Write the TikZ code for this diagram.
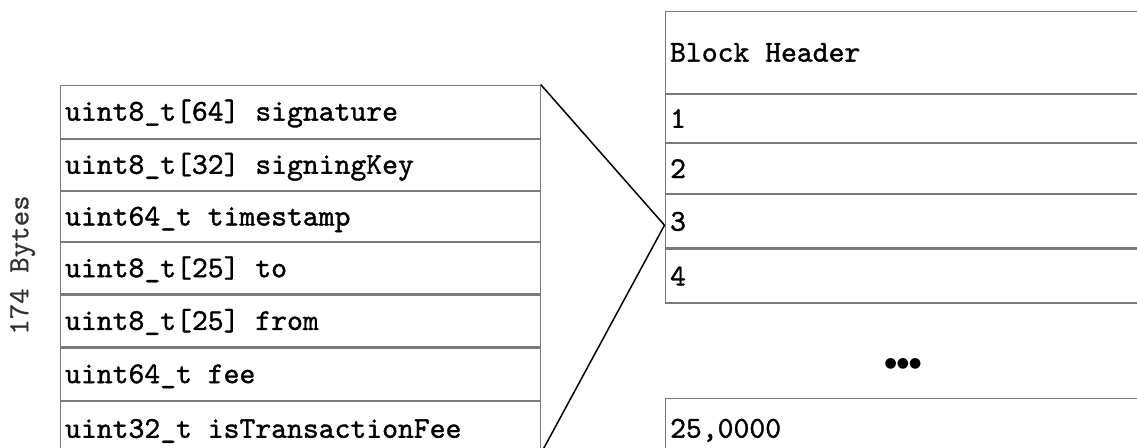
\documentclass[tikz,border=0pt]{standalone}
\usepackage{fontspec}
\setmonofont[FakeBold=1.2,WordSpace={1,0,0}]{lmmono10-regular.otf}
\newfontfamily\plainmono[FakeBold=0.6,WordSpace={1,0,0}]{lmmono10-regular.otf}
\newfontfamily\dotfont{DejaVu Sans}
\newcommand\wsp{\hspace*{0.525em}}
\definecolor{gridgray}{HTML}{7A7A7A}
\definecolor{labelgray}{HTML}{333333}
\begin{document}
\begin{tikzpicture}[x=1pt,y=-1pt,
  cell/.style={draw=gridgray, line width=1.2pt, rectangle, inner xsep=5pt, inner ysep=0pt,
    font=\ttfamily\fontsize{30.2}{32}\selectfont, text height=19.5pt, text depth=1.5pt,
    align=left, anchor=north west},
  lcell/.style={cell, minimum width=480pt, text width=470pt},
  rcell/.style={cell, minimum width=490pt, text width=480pt, text height=20.5pt},
  link/.style={draw=black, line width=1.5pt}
]
\useasboundingbox (0,0) rectangle (1137,447);
\clip (0,0) rectangle (1137,447);
\fill[white] (0,0) rectangle (1137,447);
% left table
\node[lcell, minimum height=53pt] (r1) at (59.5,84.5) {uint8\_t[64]\wsp signature};
\node[lcell, minimum height=51pt] (r2) at (r1.south west) {uint8\_t[32]\wsp signingKey};
\node[lcell, minimum height=50pt] (r3) at (r2.south west) {uint64\_t\wsp timestamp};
\node[lcell, minimum height=51pt] (r4) at (r3.south west) {uint8\_t[25]\wsp to};
\node[lcell, minimum height=52pt] (r5) at (r4.south west) {uint8\_t[25]\wsp from};
\node[lcell, minimum height=52pt] (r6) at (r5.south west) {uint64\_t\wsp fee};
\node[lcell, minimum height=55pt] (r7) at (r6.south west) {uint32\_t\wsp isTransactionFee};
% size label
\node[rotate=90, text=labelgray, font=\plainmono\fontsize{29.5}{31}\selectfont] (size) at (22.5,265) {174\wsp Bytes};
% right table
\node[rcell, minimum height=82pt] (bh) at (664.5,10.5) {Block\wsp Header};
\node[rcell, minimum height=48pt] (b1) at (bh.south west) {1};
\node[rcell, minimum height=50pt] (b2) at (b1.south west) {2};
\node[rcell, minimum height=53pt] (b3) at (b2.south west) {3};
\node[rcell, minimum height=54pt] (b4) at (b3.south west) {4};
\node[font=\dotfont\fontsize{14}{16}\selectfont] (dots) at (903,363.5) {●●●};
\node[rcell, minimum height=60pt] (blast) at (664.5,397.5) {25,0000};
% connectors
\draw[link] (r1.north east) -- ([yshift=-4pt]b3.west);
\draw[link] ([yshift=3pt]r7.south east) -- ([yshift=-4pt]b3.west);
\end{tikzpicture}
\end{document}
